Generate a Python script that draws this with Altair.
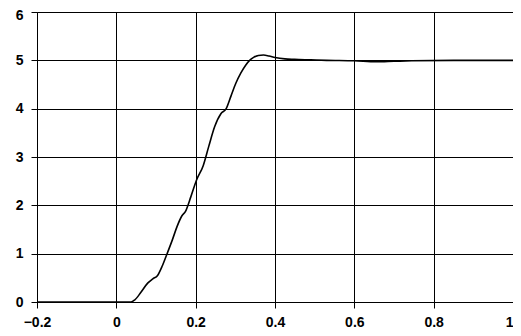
import altair as alt
import pandas as pd

t_vals = [-0.2, 0.0, 0.037, 0.046, 0.062, 0.079, 0.092, 0.104, 0.116, 0.128, 0.141, 0.153, 0.165, 0.174,
          0.188, 0.202, 0.219, 0.233, 0.248, 0.264, 0.277, 0.289, 0.301, 0.314, 0.326, 0.336, 0.346,
          0.358, 0.371, 0.385, 0.4, 0.425, 0.449, 0.49, 0.53, 0.6, 0.655, 0.7, 0.745, 0.85, 1.0]
y_vals = [0.0, 0.0, 0.0, 0.04, 0.2, 0.39, 0.48, 0.55, 0.75, 1.0, 1.28, 1.56, 1.78, 1.87,
          2.18, 2.52, 2.82, 3.22, 3.63, 3.9, 4.0, 4.26, 4.52, 4.74, 4.9, 5.0, 5.06,
          5.1, 5.11, 5.09, 5.06, 5.03, 5.02, 5.01, 5.0, 4.99, 4.97, 4.98, 4.99, 5.0, 5.0]

x_ticks = [-0.2, 0, 0.2, 0.4, 0.6, 0.8, 1]
y_ticks = [0, 1, 2, 3, 4, 5, 6]

df = pd.DataFrame({"t": t_vals, "y": y_vals})

chart = alt.Chart(df).mark_line(color="black", strokeWidth=1.6, interpolate="monotone").encode(
    x=alt.X("t:Q", scale=alt.Scale(domain=[-0.2, 1.0], nice=False, zero=False),
            axis=alt.Axis(values=x_ticks, title=None, grid=True, gridColor="black", gridOpacity=1,
                          domainColor="black", tickColor="black", tickSize=6, labelPadding=7,
                          labelFont="Liberation Sans", labelFontWeight="bold", labelFontSize=14,
                          labelColor="black", labelExpr="format(datum.value, '~g')",
                          labelAlign={"condition": {"test": "datum.value >= 1", "value": "right"},
                                      "value": "center"},
                          labelFlush=False)),
    y=alt.Y("y:Q", scale=alt.Scale(domain=[0, 6], nice=False),
            axis=alt.Axis(values=y_ticks, title=None, grid=True, gridColor="black", gridOpacity=1,
                          domainColor="black", tickColor="black", tickSize=6, labelPadding=8,
                          labelFont="Liberation Sans", labelFontWeight="bold", labelFontSize=14,
                          labelColor="black", labelFlush=False,
                          labelBaseline={"condition": {"test": "datum.value >= 6", "value": "top"},
                                         "value": "middle"},
                          labelOffset={"condition": {"test": "datum.value >= 6", "value": -4},
                                       "value": 0})),
).properties(
    width=476, height=290,
    autosize=alt.AutoSizeParams(type="none"),
    padding={"left": 29, "top": 4, "right": 0, "bottom": 26},
).configure_view(stroke="black", strokeWidth=1).configure(background="white")

chart.save("out.html", embed_options={"renderer": "svg", "actions": False})
